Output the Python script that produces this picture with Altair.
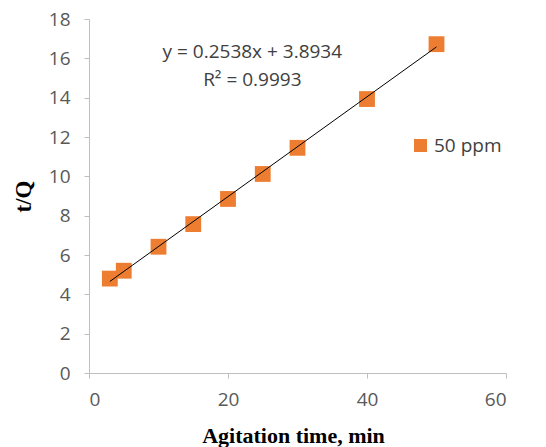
import altair as alt
import pandas as pd

times = [3, 5, 10, 15, 20, 25, 30, 40, 50]
tq = [4.8, 5.2, 6.42, 7.57, 8.85, 10.12, 11.45, 13.93, 16.72]
series = "50 ppm"
slope = 0.2538
intercept = 3.8934
eq_lines = ["y = 0.2538x + 3.8934", "R² = 0.9993"]
x_ticks = [0, 20, 40, 60]
y_ticks = [0, 2, 4, 6, 8, 10, 12, 14, 16, 18]

pts = pd.DataFrame({"t": times, "q": tq, "s": [series] * len(times)})
fit = pd.DataFrame({"t": [times[0], times[-1]],
                    "q": [slope * times[0] + intercept, slope * times[-1] + intercept]})
eq = pd.DataFrame({"t": [23.5, 23.5], "q": [16.3, 14.9], "txt": eq_lines})

xs = alt.Scale(domain=[0, 60], nice=False)
ys = alt.Scale(domain=[0, 18], nice=False)

xaxis = alt.Axis(values=x_ticks, title="Agitation time, min", grid=False, labelOverlap=False,
                 labelFont="Open Sans", labelFontSize=19, labelColor="#595959",
                 labelPadding=12, tickSize=5, tickColor="#BFBFBF", domainColor="#BFBFBF",
                 titleFont="Liberation Serif", titleFontSize=22, titleFontWeight="bold",
                 titleColor="#000000", titleX=204, titleY=62, titleBaseline="middle")
yaxis = alt.Axis(values=y_ticks, title="t/Q", grid=False, labelOverlap=False,
                 labelFont="Open Sans", labelFontSize=19, labelColor="#595959",
                 labelPadding=14, tickSize=5, tickColor="#BFBFBF", domainColor="#BFBFBF",
                 titleFont="Liberation Serif", titleFontSize=23, titleFontWeight="bold",
                 titleColor="#000000", titleX=-66, titleY=177, titleBaseline="middle")

X = alt.X("t:Q", scale=xs, axis=xaxis)
Y = alt.Y("q:Q", scale=ys, axis=yaxis)

points = alt.Chart(pts).mark_square(size=250, opacity=1).encode(
    x=X, y=Y,
    color=alt.Color("s:N", scale=alt.Scale(range=["#ED7D31"]),
                    legend=alt.Legend(title=None, orient="none", legendX=322, legendY=117,
                                      symbolType="square", symbolSize=170,
                                      labelFont="Open Sans", labelFontSize=19,
                                      labelColor="#404040", symbolOpacity=1)),
)

line = alt.Chart(fit).mark_line(color="#000000", strokeWidth=1).encode(x=X, y=Y)

text = alt.Chart(eq).mark_text(font="Open Sans", fontSize=19, color="#404040").encode(
    x=X, y=Y, text="txt:N")

chart = alt.layer(points, line, text).properties(
    width=417, height=354,
    autosize=alt.AutoSizeParams(type="none"),
    padding={"left": 81, "top": 11, "right": 20, "bottom": 74},
).configure_view(stroke=None).configure_axis(labelOverlap=False)

chart.save("out.html", embed_options={"renderer": "svg", "actions": False})
